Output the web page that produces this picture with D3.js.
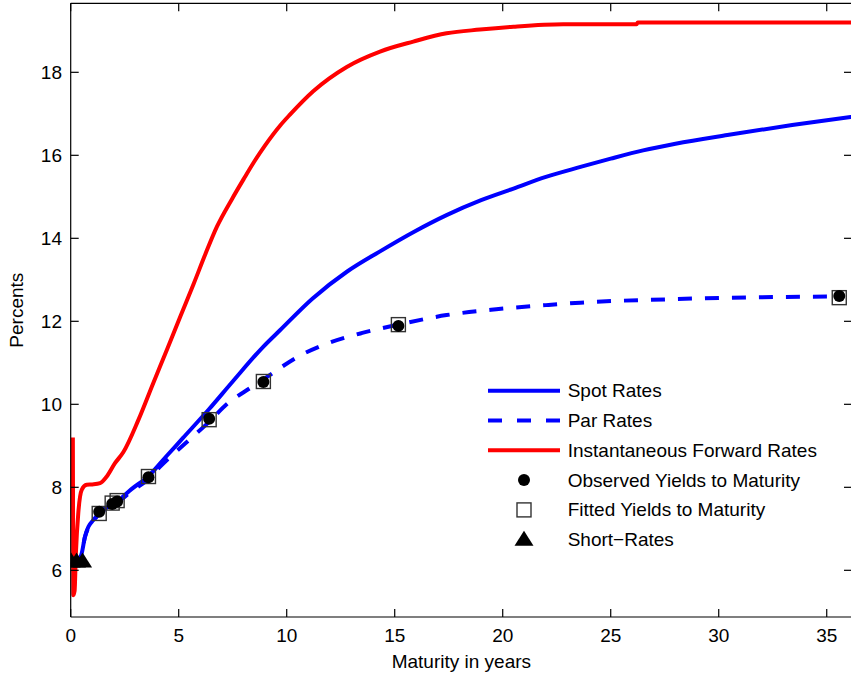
<!DOCTYPE html>
<html><head><meta charset="utf-8">
<script src="https://cdn.jsdelivr.net/npm/d3@7/dist/d3.min.js"></script>
<style>
html,body{margin:0;padding:0;background:#fff;}
svg{display:block;}
text{font-family:"Liberation Sans",Arial,Helvetica,sans-serif;fill:#000;}
</style></head><body>
<script>
// ---- data ----
const spotT = [0.02,0.3,0.51,0.66,0.82,1.05,1.32,1.9,2.2,2.8,3.6,4.45,5.2,6.4,7.5,8.9,9.7,11.2,12.8,14.3,15.9,17.4,19.0,20.5,22.0,23.6,25.0,26.5,28.0,30.4,33.4,36.2];
const spotV = [6.15,6.2,6.41,6.81,7.05,7.21,7.38,7.58,7.68,7.95,8.27,8.76,9.19,9.88,10.55,11.38,11.79,12.55,13.2,13.68,14.16,14.56,14.92,15.2,15.48,15.72,15.92,16.12,16.28,16.49,16.73,16.93];
const parT = [0.02,0.3,0.51,0.66,0.82,1.05,1.32,1.9,2.2,2.8,3.6,4.14,5.22,6.41,7.22,8.3,8.92,10.6,11.7,13.5,15.17,17.4,19.7,22.0,23.6,27.6,31.9,35.6];
const parV = [6.15,6.2,6.41,6.8,7.03,7.19,7.36,7.56,7.65,7.9,8.2,8.5,9.02,9.58,10.0,10.39,10.6,11.17,11.43,11.72,11.92,12.15,12.29,12.39,12.45,12.53,12.58,12.6];
const fwdT = [0.1,0.11,0.12,0.18,0.24,0.35,0.51,0.74,1.0,1.36,1.67,2.05,2.44,3.13,3.82,4.45,5.07,5.69,6.25,6.77,7.47,8.0,8.5,9.0,9.7,10.15,11.24,12.78,14.32,15.86,17.4,18.95,20.5,22.8,26.2,26.25,36.2];
const fwdV = [9.2,7.0,5.4,5.5,6.4,7.37,7.94,8.06,8.07,8.1,8.26,8.58,8.85,9.62,10.51,11.31,12.11,12.9,13.64,14.28,14.95,15.42,15.85,16.24,16.72,16.98,17.55,18.13,18.5,18.74,18.94,19.03,19.1,19.16,19.16,19.2,19.2];
const bondT = [1.32,1.92,2.15,3.6,6.41,8.92,15.17,35.58];
const observedYTM = [7.41,7.6,7.66,8.24,9.65,10.54,11.89,12.61];
const fittedYTM = [7.37,7.62,7.68,8.26,9.63,10.55,11.92,12.57];
const shortT = [0.02,0.27,0.55];
const shortV = [6.21,6.21,6.21];
const xTicks = [0,5,10,15,20,25,30,35];
const yTicks = [6,8,10,12,14,16,18];
const legendLabels = ["Spot Rates","Par Rates","Instantaneous Forward Rates","Observed Yields to Maturity","Fitted Yields to Maturity","Short\u2212Rates"];

// ---- layout ----
const W = 851, H = 677;
const L = 70.7, R = 852, T = 3.3, B = 617;
const FS = 19;
const BLUE = "#0000ff", RED = "#ff0000";

const svg = d3.select("body").append("svg").attr("width", W).attr("height", H);
const x = d3.scaleLinear().domain([0, 36.17]).range([L, R]);
const y = d3.scaleLinear().domain([4.875, 19.663]).range([B, T]);

svg.append("defs").append("clipPath").attr("id","clip")
  .append("rect").attr("x", L).attr("y", T).attr("width", R - L).attr("height", B - T);

const plot = svg.append("g").attr("clip-path","url(#clip)");
const line = d3.line().x(d => x(d[0])).y(d => y(d[1])).curve(d3.curveMonotoneX);

plot.append("path").datum(d3.zip(fwdT, fwdV)).attr("d", line)
  .attr("fill","none").attr("stroke",RED).attr("stroke-width",4).attr("stroke-linejoin","round");
plot.append("path").datum(d3.zip(spotT, spotV)).attr("d", line)
  .attr("fill","none").attr("stroke",BLUE).attr("stroke-width",4).attr("stroke-linejoin","round");
plot.append("path").datum(d3.zip(parT, parV)).attr("d", line)
  .attr("fill","none").attr("stroke",BLUE).attr("stroke-width",4).attr("stroke-dasharray","14,13");

// markers
const sq = 14;
const triPath = "M0,-9L9.5,6L-9.5,6Z";
plot.selectAll("rect.fit").data(d3.zip(bondT, fittedYTM)).join("rect").attr("class","fit")
  .attr("x", d => x(d[0]) - sq/2).attr("y", d => y(d[1]) - sq/2)
  .attr("width", sq).attr("height", sq)
  .attr("fill","none").attr("stroke","#333").attr("stroke-width",1.4);
plot.selectAll("circle.obs").data(d3.zip(bondT, observedYTM)).join("circle").attr("class","obs")
  .attr("cx", d => x(d[0])).attr("cy", d => y(d[1])).attr("r", 6).attr("fill","#000");
plot.selectAll("path.sr").data(d3.zip(shortT, shortV)).join("path").attr("class","sr")
  .attr("d", triPath).attr("transform", d => `translate(${x(d[0])},${y(d[1])})`).attr("fill","#000");

// axes (box with inward ticks on all sides)
const ax = svg.append("g").attr("stroke","#000").attr("stroke-width",1.2);
ax.append("line").attr("x1",L).attr("x2",R).attr("y1",B).attr("y2",B);
ax.append("line").attr("x1",L).attr("x2",R).attr("y1",T).attr("y2",T);
ax.append("line").attr("x1",L).attr("x2",L).attr("y1",T).attr("y2",B);
ax.append("line").attr("x1",R).attr("x2",R).attr("y1",T).attr("y2",B);
const tl = 8;
xTicks.forEach(t => {
  ax.append("line").attr("x1",x(t)).attr("x2",x(t)).attr("y1",B).attr("y2",B - tl);
  ax.append("line").attr("x1",x(t)).attr("x2",x(t)).attr("y1",T).attr("y2",T + tl);
});
yTicks.forEach(t => {
  ax.append("line").attr("x1",L).attr("x2",L + tl).attr("y1",y(t)).attr("y2",y(t));
  ax.append("line").attr("x1",R).attr("x2",R - tl).attr("y1",y(t)).attr("y2",y(t));
});
svg.selectAll("text.xt").data(xTicks).join("text").attr("class","xt")
  .attr("x", d => x(d)).attr("y", 642).attr("text-anchor","middle").attr("font-size",FS).text(d => d);
svg.selectAll("text.yt").data(yTicks).join("text").attr("class","yt")
  .attr("x", 62).attr("y", d => y(d) + 6.5).attr("text-anchor","end").attr("font-size",FS).text(d => d);
svg.append("text").attr("x", (L + R) / 2).attr("y", 668).attr("text-anchor","middle")
  .attr("font-size",FS).text("Maturity in years");
svg.append("text").attr("transform", `translate(23,${(T + B) / 2}) rotate(-90)`)
  .attr("text-anchor","middle").attr("font-size",FS).text("Percents");

// legend
const lg = svg.append("g");
const ly0 = 390.7, ldy = 29.8, lx1 = 488, lx2 = 560, ltx = 567.7, lmx = 524;
legendLabels.forEach((lab, i) => {
  const yy = ly0 + i * ldy;
  if (i === 0) lg.append("line").attr("x1",lx1).attr("x2",lx2).attr("y1",yy).attr("y2",yy).attr("stroke",BLUE).attr("stroke-width",4);
  if (i === 1) lg.append("line").attr("x1",lx1).attr("x2",lx2).attr("y1",yy).attr("y2",yy).attr("stroke",BLUE).attr("stroke-width",4).attr("stroke-dasharray","14,15");
  if (i === 2) lg.append("line").attr("x1",lx1).attr("x2",lx2).attr("y1",yy).attr("y2",yy).attr("stroke",RED).attr("stroke-width",4);
  if (i === 3) lg.append("circle").attr("cx",lmx).attr("cy",yy).attr("r",6).attr("fill","#000");
  if (i === 4) lg.append("rect").attr("x",lmx - 7).attr("y",yy - 7).attr("width",14).attr("height",14).attr("fill","none").attr("stroke","#333").attr("stroke-width",1.4);
  if (i === 5) lg.append("path").attr("d",triPath).attr("transform",`translate(${lmx},${yy})`).attr("fill","#000");
  lg.append("text").attr("x",ltx).attr("y",yy + 6.5).attr("font-size",FS).text(lab);
});
</script>
</body></html>
